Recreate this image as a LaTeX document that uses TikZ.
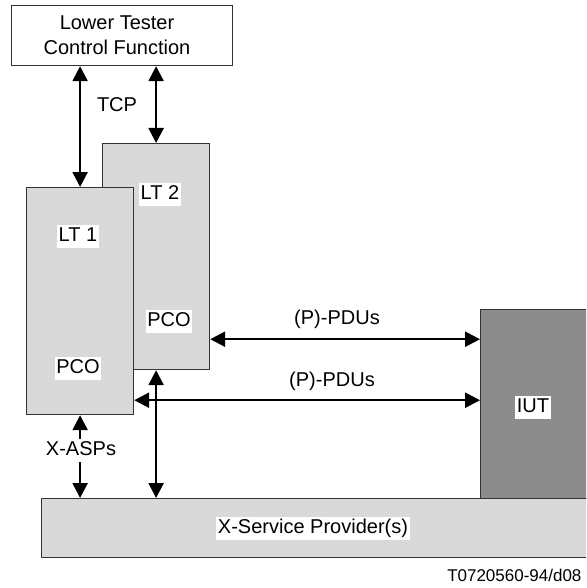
\documentclass[tikz,border=0pt]{standalone}
\usepackage{fontspec}
\setmainfont{Liberation Sans}
\usetikzlibrary{arrows.meta}
\definecolor{panel}{HTML}{D9D9D9}
\definecolor{iutgray}{HTML}{8C8C8C}
\definecolor{edge}{HTML}{333333}

\begin{document}
\begin{tikzpicture}[x=1pt,y=-1pt,
  font=\fontsize{20}{25}\selectfont,
  box/.style={draw=edge, line width=1.2pt, inner sep=0pt, anchor=north west},
  tag/.style={fill=white, inner xsep=1.5pt, inner ysep=2pt, text height=15pt, text depth=4pt},
  link/.style={line width=2.4pt,
    {Triangle[length=15pt,width=15pt]}-{Triangle[length=15pt,width=15pt]}}]

  \useasboundingbox (0,0) rectangle (586,588);
  \clip (0,0) rectangle (586,588);

  % control function box
  \node[box, fill=white, minimum width=221pt, minimum height=60pt] (ltcf) at (11,5) {};
  \node[align=center] (ltcftext) at (117,35) {Lower Tester\\Control Function};

  % lower testers (LT 2 behind LT 1)
  \node[box, fill=panel, minimum width=107pt, minimum height=226pt] (lt2) at (102,143) {};
  \node[box, fill=panel, minimum width=107pt, minimum height=227pt] (lt1) at (26,187) {};

  % implementation under test and service provider
  \node[box, fill=iutgray, minimum width=112pt, minimum height=189pt] (iut) at (480,309) {};
  \node[box, fill=panel, minimum width=552pt, minimum height=59pt] (xsp) at (41,498) {};

  % TCP connections
  \draw[link] (lt1.north |- ltcf.south) -- (lt1.north);
  \draw[link] (lt2.north |- ltcf.south) -- (lt2.north);
  \node (tcp) at (117,105) {TCP};

  % PDU exchange with the IUT
  \draw[link] ([yshift=31pt]lt2.south east) -- ([yshift=31pt]lt2.south east -| iut.west);
  \draw[link] ([yshift=15pt]lt1.south east) -- ([yshift=15pt]lt1.south east -| iut.west);
  \node (pdu1) at (337,319) {(P)-PDUs};
  \node (pdu2) at (332,381) {(P)-PDUs};

  % service primitives to the provider
  \draw[link] (lt1.south) -- (lt1.south |- xsp.north);
  \draw[link] (lt2.south) -- (lt2.south |- xsp.north);
  \node[tag] (xasp) at (81,450) {X-ASPs};

  % labels inside the boxes
  \node[tag] (lt1lab) at (78,236) {LT 1};
  \node[tag] (lt2lab) at (160,194) {LT 2};
  \node[tag] (pco2) at (169,321) {PCO};
  \node[tag] (pco1) at (78,368) {PCO};
  \node[tag] (iutlab) at (533,407) {IUT};
  \node[tag] (xsplab) at (313,528) {X-Service Provider(s)};

  \node[font=\fontsize{17}{20}\selectfont, anchor=east] (figid) at (585,575) {T0720560-94/d08};
\end{tikzpicture}
\end{document}
